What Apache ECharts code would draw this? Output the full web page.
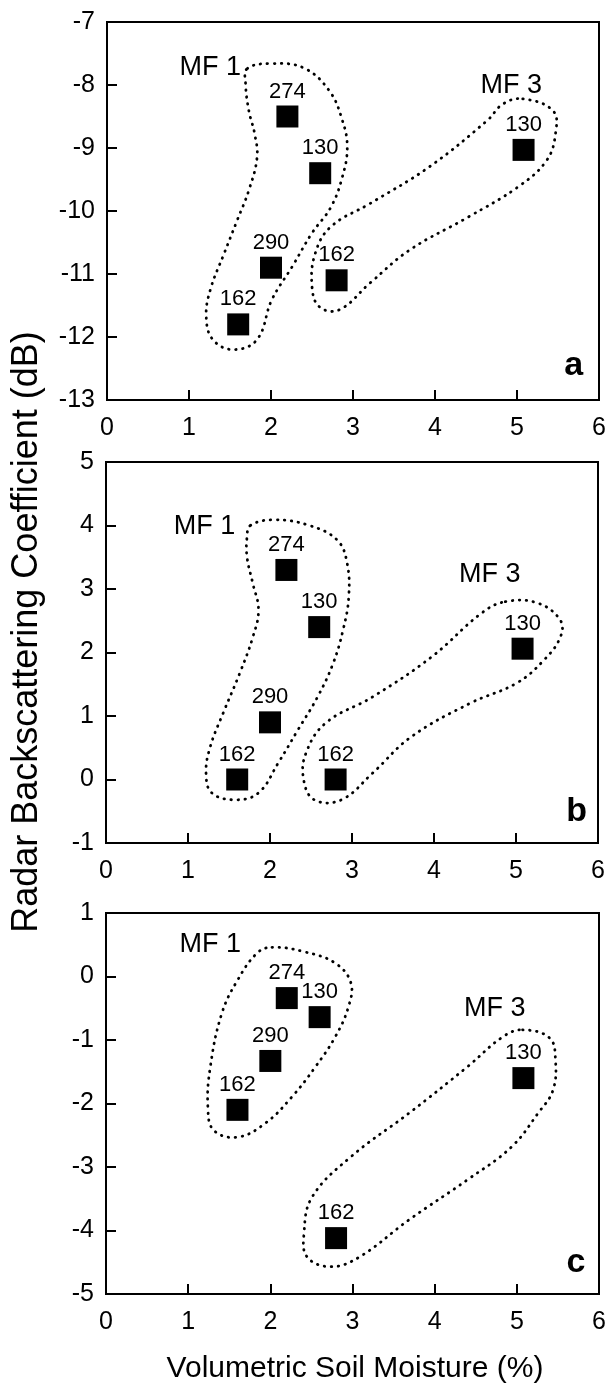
<!DOCTYPE html>
<html>
<head>
<meta charset="utf-8">
<script src="https://cdn.jsdelivr.net/npm/echarts@6/dist/echarts.min.js"></script>
<style>
html,body{margin:0;padding:0;background:#fff;}
#chart{width:613px;height:1398px;}
</style>
</head>
<body>
<div id="chart"></div>
<script>
// ---- data ----
const siteLabelsMF1 = ['162', '290', '274', '130'];
const siteLabelsMF3 = ['162', '130'];

const mf1A = [[1.6, -11.8], [2.0, -10.9], [2.2, -8.5], [2.6, -9.4]];
const mf3A = [[2.8, -11.1], [5.08, -9.03]];
const mf1B = [[1.6, 0.0], [2.0, 0.9], [2.2, 3.3], [2.6, 2.4]];
const mf3B = [[2.8, 0.0], [5.08, 2.06]];
const mf1C = [[1.6, -2.1], [2.0, -1.33], [2.2, -0.34], [2.6, -0.64]];
const mf3C = [[2.8, -4.12], [5.08, -1.6]];

// dotted group outlines (data coordinates)
const outlineMF1A = [[1.71,-7.74],[2.01,-7.66],[2.4,-7.73],[2.71,-8.09],[2.87,-8.56],[2.93,-8.99],[2.87,-9.46],[2.73,-9.94],[2.5,-10.35],[2.26,-10.88],[2.01,-11.41],[1.83,-12.04],[1.54,-12.2],[1.29,-12.04],[1.21,-11.68],[1.26,-11.25],[1.43,-10.67],[1.59,-10.14],[1.73,-9.67],[1.83,-9.15],[1.8,-8.77],[1.73,-8.41],[1.69,-7.98]];
const outlineMF3A = [[5.07,-8.22],[5.44,-8.41],[5.47,-8.77],[5.36,-9.2],[5.01,-9.62],[4.4,-10.1],[3.69,-10.62],[3.21,-11.14],[2.83,-11.57],[2.59,-11.52],[2.5,-11.2],[2.54,-10.67],[2.73,-10.25],[3.21,-9.88],[3.93,-9.3],[4.64,-8.56],[4.83,-8.3]];
const outlineMF1B = [[1.76,4.0],[2.05,4.09],[2.48,4.0],[2.82,3.77],[2.94,3.41],[2.96,2.87],[2.89,2.35],[2.77,1.83],[2.58,1.3],[2.34,0.78],[2.1,0.26],[1.86,-0.21],[1.58,-0.32],[1.29,-0.21],[1.22,0.1],[1.27,0.51],[1.43,1.05],[1.63,1.67],[1.79,2.24],[1.86,2.67],[1.79,3.09],[1.72,3.5],[1.72,3.82]];
const outlineMF3B = [[4.87,2.8],[5.26,2.78],[5.54,2.51],[5.54,2.24],[5.34,1.88],[5.01,1.52],[4.44,1.2],[3.72,0.67],[3.25,0.1],[2.87,-0.32],[2.54,-0.32],[2.41,0.0],[2.44,0.42],[2.68,0.89],[3.25,1.3],[3.97,1.93],[4.58,2.62]];
const outlineMF1C = [[2.02,0.46],[2.41,0.39],[2.79,0.21],[2.98,-0.1],[2.95,-0.48],[2.79,-0.95],[2.55,-1.42],[2.26,-1.9],[1.94,-2.31],[1.6,-2.53],[1.31,-2.42],[1.24,-2.06],[1.27,-1.42],[1.41,-0.58],[1.6,-0.06],[1.84,0.37]];
const outlineMF3C = [[5.07,-0.84],[5.4,-0.97],[5.47,-1.31],[5.44,-1.79],[5.26,-2.15],[4.93,-2.69],[4.4,-3.2],[3.69,-3.83],[3.08,-4.42],[2.74,-4.57],[2.45,-4.42],[2.41,-4.04],[2.51,-3.47],[2.98,-2.84],[3.69,-2.15],[4.4,-1.42],[4.83,-0.95]];

// group-name and panel-letter positions (data coordinates)
const groupNames = ['MF 1', 'MF 3'];
const groupPosA = [[1.26, -7.72], [4.93, -8.01]];
const groupPosB = [[1.2, 3.99], [4.68, 3.22]];
const groupPosC = [[1.27, 0.5], [4.73, -0.51]];
const panelLetters = ['a', 'b', 'c'];
const letterPos = [[5.69, -12.45], [5.74, -0.5], [5.72, -4.5]];

const xMin = 0, xMax = 6;
const yRanges = [[-13, -7], [-1, 5], [-5, 1]];
const xTitle = 'Volumetric Soil Moisture (%)';
const yTitle = 'Radar Backscattering Coefficient (dB)';

// ---- chart ----
const FONT = '"Liberation Sans", Arial, Helvetica, sans-serif';
const chart = echarts.init(document.getElementById('chart'), null, {renderer: 'canvas'});

const grids = [
  {left: 107, top: 22, width: 492, height: 378},
  {left: 106, top: 462, width: 492, height: 381},
  {left: 106, top: 913, width: 493, height: 381}
].map(g => Object.assign({show: true, borderColor: '#000', borderWidth: 2, backgroundColor: 'transparent'}, g));

const axisCommon = {
  axisLine: {show: true, onZero: false, lineStyle: {color: '#000', width: 2}},
  axisTick: {show: true, inside: true, length: 10, lineStyle: {color: '#000', width: 2}},
  splitLine: {show: false},
  interval: 1
};

const xAxes = [0, 1, 2].map(i => Object.assign({}, axisCommon, {
  type: 'value', gridIndex: i, min: xMin, max: xMax,
  axisLabel: {color: '#000', fontSize: 25, fontFamily: FONT, margin: 16}
}));
const yAxes = [0, 1, 2].map(i => Object.assign({}, axisCommon, {
  type: 'value', gridIndex: i, min: yRanges[i][0], max: yRanges[i][1],
  axisLabel: {color: '#000', fontSize: 25, fontFamily: FONT, margin: 12}
}));

function contourRender(points) {
  return function (params, api) {
    if (params.dataIndex !== 0) return null;
    const pts = points.map(p => api.coord(p));
    return {
      type: 'polygon',
      shape: {points: pts, smooth: 0.4},
      style: {fill: 'none', stroke: '#000', lineWidth: 2.8, lineDash: [0.5, 6.5], lineCap: 'round'}
    };
  };
}

function contourSeries(points, i) {
  return {
    type: 'custom', xAxisIndex: i, yAxisIndex: i, silent: true,
    data: points, encode: {x: 0, y: 1},
    renderItem: contourRender(points), z: 1
  };
}

function pointSeries(pts, labels, i) {
  return {
    type: 'scatter', xAxisIndex: i, yAxisIndex: i, silent: true,
    symbol: 'rect', symbolSize: 22,
    itemStyle: {color: '#000', opacity: 1},
    data: pts.map((p, k) => ({value: p, name: labels[k]})),
    label: {show: true, position: 'top', distance: 3, formatter: '{b}', color: '#000', fontSize: 22, fontFamily: FONT},
    z: 3
  };
}

function textSeries(pos, texts, i, style) {
  return {
    type: 'scatter', xAxisIndex: i, yAxisIndex: i, silent: true,
    symbolSize: 0,
    itemStyle: {opacity: 1},
    data: pos.map((p, k) => ({value: p, name: texts[k]})),
    label: Object.assign({show: true, position: 'inside', formatter: '{b}', color: '#000', fontFamily: FONT}, style),
    z: 4
  };
}

const mf1 = [mf1A, mf1B, mf1C];
const mf3 = [mf3A, mf3B, mf3C];
const out1 = [outlineMF1A, outlineMF1B, outlineMF1C];
const out3 = [outlineMF3A, outlineMF3B, outlineMF3C];
const gpos = [groupPosA, groupPosB, groupPosC];

const series = [];
for (let i = 0; i < 3; i++) {
  series.push(contourSeries(out1[i], i));
  series.push(contourSeries(out3[i], i));
  series.push(pointSeries(mf1[i], siteLabelsMF1, i));
  series.push(pointSeries(mf3[i], siteLabelsMF3, i));
  series.push(textSeries(gpos[i], groupNames, i, {fontSize: 27}));
  series.push(textSeries([letterPos[i]], [panelLetters[i]], i, {fontSize: 34, fontWeight: 'bold'}));
}

chart.setOption({
  animation: false,
  backgroundColor: '#fff',
  grid: grids,
  xAxis: xAxes,
  yAxis: yAxes,
  series: series,
  graphic: [
    {type: 'text', x: 355, y: 1354, style: {text: xTitle, font: '30px ' + FONT, fill: '#000', align: 'center', verticalAlign: 'top'}},
    {type: 'text', x: 9, y: 632, rotation: Math.PI / 2, style: {text: yTitle, font: '36px ' + FONT, fill: '#000', align: 'center', verticalAlign: 'top'}}
  ]
});
</script>
</body>
</html>
